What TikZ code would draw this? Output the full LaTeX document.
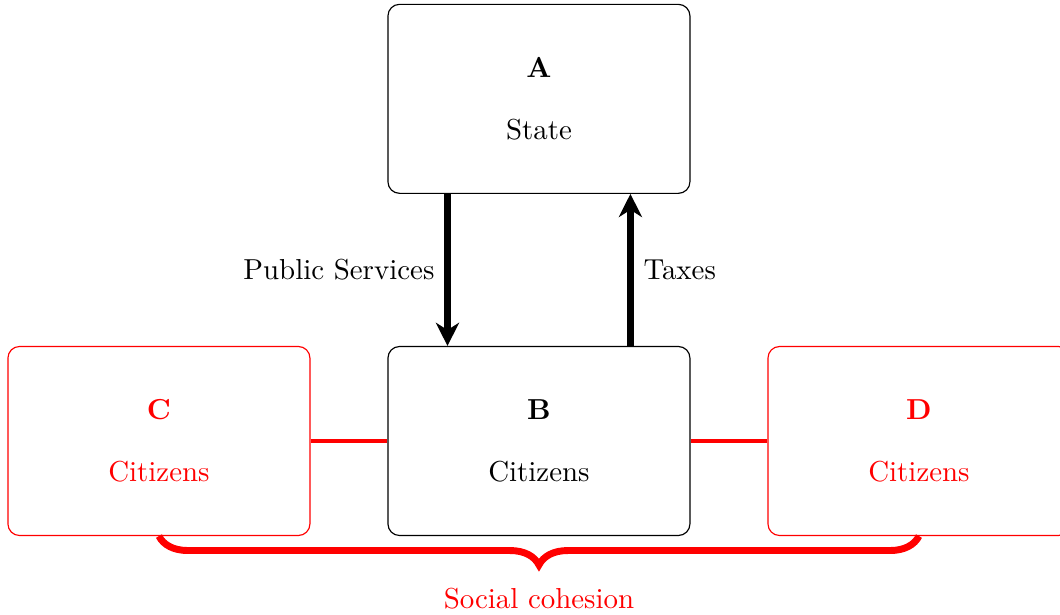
\documentclass[tikz,border=0pt]{standalone}
\usetikzlibrary{positioning,arrows.meta,decorations.pathreplacing}

\begin{document}
\begin{tikzpicture}[
  box/.style={draw, rounded corners, minimum width=104.5pt, minimum height=65.4pt, align=center},
  redbox/.style={box, draw=red, text=red},
  flow/.style={line width=2.4pt, -{Stealth[length=8pt,width=8pt,inset=2.5pt]}},
  link/.style={red, very thick},
  node distance=52.6pt and 26.6pt
]
\useasboundingbox (-186.5pt,-59.9pt) rectangle (180.3pt,152.6pt);
% --- citizens row ---
\node[box] (B) at (0,0) {\textbf{B}\\[9.5pt]Citizens};
\node[redbox, left=of B] (C) {\textbf{C}\\[9.5pt]Citizens};
\node[redbox, right=of B] (D) {\textbf{D}\\[9.5pt]Citizens};
% --- state on top ---
\node[box, above=of B] (A) {\textbf{A}\\[9.5pt]State};
\draw[flow] ([xshift=20.8pt]A.south west) -- node[left] {Public Services} ([xshift=20.8pt]B.north west);
\draw[flow] ([xshift=-20.8pt]B.north east) -- node[right] {Taxes} ([xshift=-20.8pt]A.south east);
\draw[link] (C) -- (B);
\draw[link] (B) -- (D);
% brace under the row
\draw[red, line width=2.4pt, decorate, decoration={brace, mirror, amplitude=10pt}]
  (C.south) -- (D.south) node[midway, below=13.5pt] {Social cohesion};
\end{tikzpicture}
\end{document}
